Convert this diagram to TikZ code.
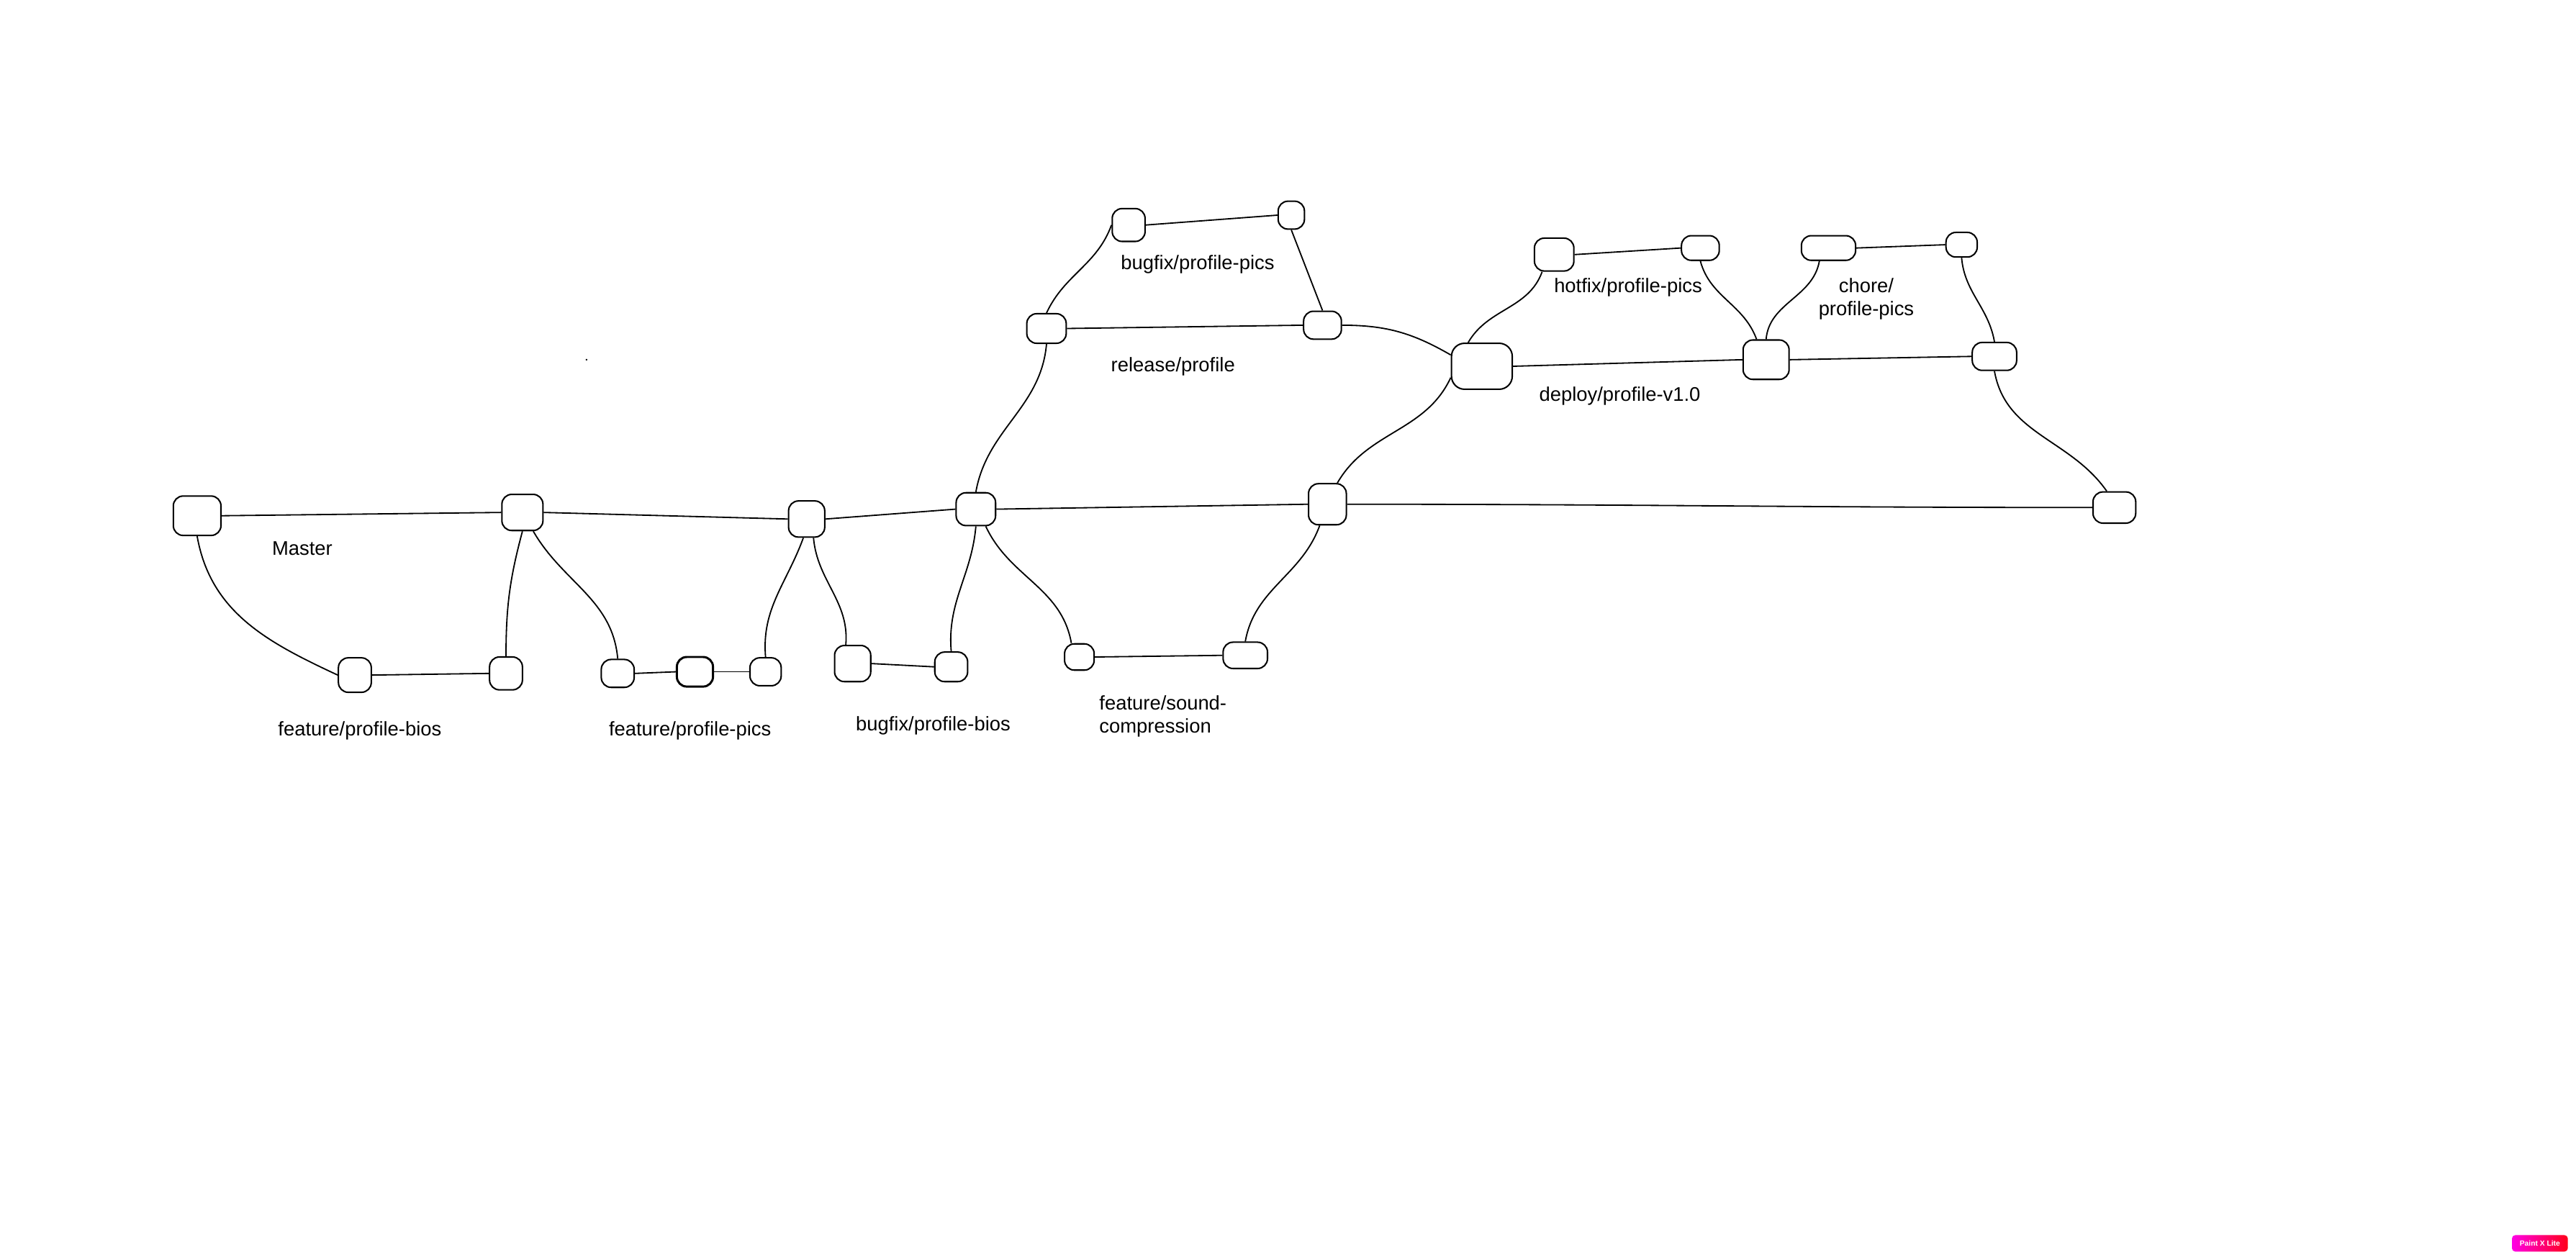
\documentclass[tikz,border=0pt]{standalone}
\usepackage{fontspec}
\setmainfont{Liberation Sans}
\begin{document}
\begin{tikzpicture}[x=1pt,y=-1pt,
  commit/.style={draw, line width=0.9pt, rectangle, rounded corners=6pt, inner sep=0pt, minimum width=24pt, minimum height=21pt},
  branch/.style={line width=0.8pt},
  lbl/.style={font=\fontsize{12}{14}\selectfont, inner sep=0pt, align=center}]
\useasboundingbox (0,0) rectangle (1568,767);
\fill[white] (0,0) rectangle (1568,767);
% master
\node[commit, minimum width=29pt, minimum height=24pt] (m1) at (120,314) {};
\node[commit, minimum width=25pt, minimum height=22pt] (m2) at (318,312) {};
\node[commit, minimum width=22pt, minimum height=22pt] (m3) at (491,316) {};
\node[commit, minimum width=24pt, minimum height=20pt] (m4) at (594,310) {};
\node[commit, minimum width=23pt, minimum height=25pt] (m5) at (808,307) {};
\node[commit, minimum width=26pt, minimum height=19pt] (m6) at (1287,309) {};
% bottom row
\node[commit, minimum width=20pt, minimum height=21pt] (fb1) at (216,411) {};
\node[commit, minimum width=20pt, minimum height=20pt] (fb2) at (308,410) {};
\node[commit, minimum width=20pt, minimum height=17pt] (fp1) at (376,410) {};
\node[commit, minimum width=22pt, minimum height=18pt, line width=1.3pt] (fp2) at (423,409) {};
\node[commit, minimum width=19pt, minimum height=17pt] (fp3) at (466,409) {};
\node[commit, minimum width=22pt, minimum height=22pt] (bb1) at (519,404) {};
\node[commit, minimum width=20pt, minimum height=18pt] (bb2) at (579,406) {};
\node[commit, minimum width=18pt, minimum height=16pt] (fs1) at (657,400) {};
\node[commit, minimum width=27pt, minimum height=16pt] (fs2) at (758,399) {};
% release / bugfix
\node[commit, minimum width=24pt, minimum height=18pt] (r1) at (637,200) {};
\node[commit, minimum width=23pt, minimum height=17pt] (r2) at (805,198) {};
\node[commit, minimum width=20pt, minimum height=20pt] (bp1) at (687,137) {};
\node[commit, minimum width=16pt, minimum height=17pt] (bp2) at (786,131) {};
% deploy / hotfix / chore
\node[commit, minimum width=37pt, minimum height=28pt, rounded corners=8pt] (d1) at (902,223) {};
\node[commit, minimum width=28pt, minimum height=24pt] (d2) at (1075,219) {};
\node[commit, minimum width=27pt, minimum height=17pt] (d3) at (1214,217) {};
\node[commit, minimum width=24pt, minimum height=20pt] (h1) at (946,155) {};
\node[commit, minimum width=23pt, minimum height=15pt] (h2) at (1035,151) {};
\node[commit, minimum width=33pt, minimum height=15pt] (c1) at (1113,151) {};
\node[commit, minimum width=19pt, minimum height=15pt] (c2) at (1194,149) {};
% master line
\draw[branch] (m1.east) -- (m2.west);
\draw[branch] (m2.east) -- (m3.west);
\draw[branch] (m3.east) -- (m4.west);
\draw[branch] (m4.east) -- (m5.west);
\draw[branch] (m5.east) to[out=0,in=180] (m6.west);
% feature/profile-bios
\draw[branch] (m1.south) to[out=-80,in=155] (fb1.west);
\draw[branch] (fb1.east) -- (fb2.west);
\draw[branch] (fb2.north) to[out=90,in=-105] (m2.south);
% feature/profile-pics
\draw[branch] (m2.-60) to[out=-60,in=95] (fp1.north);
\draw[branch] (fp1.east) -- (fp2.west);
\draw[branch] (fp2.east) -- (fp3.west);
\draw[branch] (fp3.north) to[out=95,in=-110] (m3.-100);
% bugfix/profile-bios
\draw[branch] (m3.-70) to[out=-85,in=85] (bb1.110);
\draw[branch] (bb1.east) -- (bb2.west);
\draw[branch] (bb2.north) to[out=95,in=-95] (m4.south);
% feature/sound-compression
\draw[branch] (m4.-60) to[out=-65,in=100] (fs1.120);
\draw[branch] (fs1.east) -- (fs2.west);
\draw[branch] (fs2.north) to[out=80,in=-110] (m5.-110);
% release/profile and bugfix/profile-pics
\draw[branch] (m4.north) to[out=80,in=-95] (r1.south);
\draw[branch] (r1.east) -- (r2.west);
\draw[branch] (r1.north) to[out=65,in=-110] (bp1.west);
\draw[branch] (bp1.east) -- (bp2.west);
\draw[branch] (bp2.south) -- (r2.north);
\draw[branch] (r2.east) to[out=0,in=150] (d1.160);
% deploy and hotfix
\draw[branch] (m5.65) to[out=60,in=-115] (d1.200);
\draw[branch] (d1.120) to[out=60,in=-110] (h1.235);
\draw[branch] (d1.east) -- (d2.west);
\draw[branch] (h1.east) -- (h2.west);
\draw[branch] (h2.south) to[out=-75,in=110] (d2.115);
% chore
\draw[branch] (d2.north) to[out=85,in=-100] (c1.235);
\draw[branch] (c1.east) -- (c2.west);
\draw[branch] (c2.south) to[out=-85,in=100] (d3.north);
\draw[branch] (d2.east) -- (d3.west);
\draw[branch] (d3.south) to[out=-80,in=125] (m6.115);
% labels
\node[lbl] (lmaster) at (184,334) {Master};
\node[lbl] (lfb) at (219,445) {feature/profile-bios};
\node[lbl] (lfp) at (420,445) {feature/profile-pics};
\node[lbl] (lbb) at (568,442) {bugfix/profile-bios};
\node[lbl, align=left, anchor=west] (lfs) at (669,436) {feature/sound-\\compression};
\node[lbl] (lbp) at (729,161) {bugfix/profile-pics};
\node[lbl] (lrel) at (714,223) {release/profile};
\node[lbl] (lhot) at (991,175) {hotfix/profile-pics};
\node[lbl] (ldep) at (986,241) {deploy/profile-v1.0};
\node[lbl] (lchore) at (1136,182) {chore/\\profile-pics};
% stray dot
\fill (357,219) circle (0.6);
% watermark
\node[rounded corners=2pt, left color=magenta!90!red, right color=red!90!magenta, minimum width=34pt, minimum height=10pt, inner sep=0pt, text=white, font=\fontsize{4.5}{5}\selectfont\bfseries] (wm) at (1546,757) {Paint X Lite};
\end{tikzpicture}
\end{document}
